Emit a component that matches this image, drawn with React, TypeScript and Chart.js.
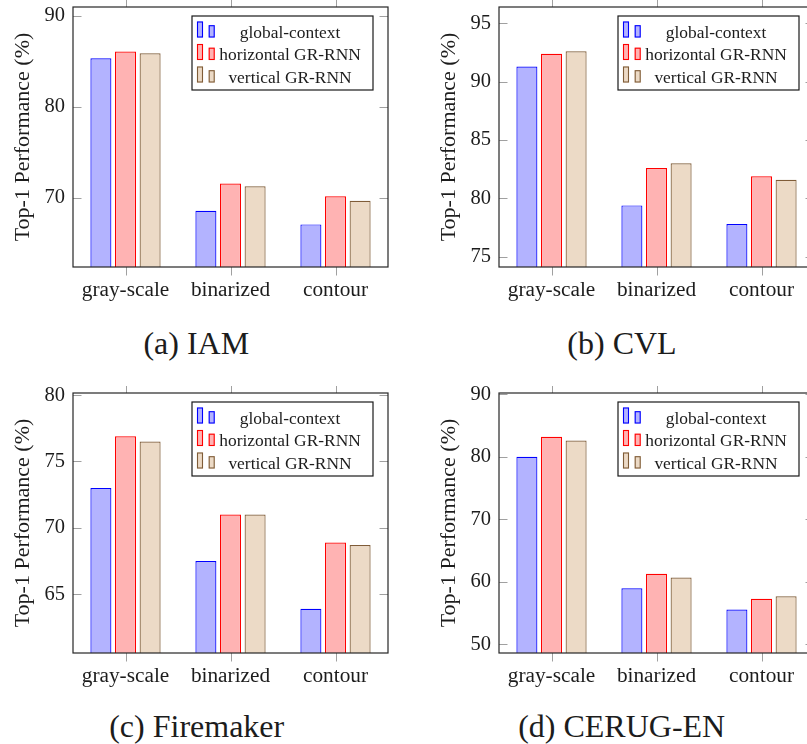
import React, { useEffect, useRef } from 'react';
import { Chart, registerables } from 'chart.js';

Chart.register(...registerables);

// ---------- data ----------
const categories = ['gray-scale', 'binarized', 'contour'];
const seriesNames = ['global-context', 'horizontal GR-RNN', 'vertical GR-RNN'];

const iamGlobal = [85.35, 68.6, 67.1];
const iamHorizontal = [86.1, 71.6, 70.2];
const iamVertical = [85.9, 71.3, 69.7];
const iamTicks = [70, 80, 90];
const iamRange = [62.42, 90.99];

const cvlGlobal = [91.3, 79.4, 77.8];
const cvlHorizontal = [92.4, 82.6, 81.9];
const cvlVertical = [92.6, 83.0, 81.6];
const cvlTicks = [75, 80, 85, 90, 95];
const cvlRange = [74.12, 96.4];

const fireGlobal = [73.0, 67.5, 63.9];
const fireHorizontal = [76.9, 71.0, 68.9];
const fireVertical = [76.5, 71.0, 68.7];
const fireTicks = [65, 70, 75, 80];
const fireRange = [60.57, 80.16];

const cerugGlobal = [80.0, 59.0, 55.6];
const cerugHorizontal = [83.2, 61.3, 57.3];
const cerugVertical = [82.6, 60.7, 57.7];
const cerugTicks = [50, 60, 70, 80, 90];
const cerugRange = [48.64, 90.2];

const captions = ['(a) IAM', '(b) CVL', '(c) Firemaker', '(d) CERUG-EN'];
const yTitle = 'Top-1 Performance (%)';

// ---------- styles ----------
const FONT = "'Liberation Serif', 'Times New Roman', serif";
const TEXT = '#1c1c1c';
const fills = ['#b3b3ff', '#ffb3b3', '#ecdac6'];
const strokes = ['#0000ff', '#ff0000', '#7f5c38'];

const W = 400;
const H = 305;
const AREA = { left: 73, top: 7, right: 388, bottom: 267 };
const TICK_LEN = 8.5;

Chart.defaults.font.family = FONT;

const framePlugin = {
  id: 'pgfFrame',
  afterDatasetsDraw(chart: any) {
    const { ctx, chartArea: a, scales } = chart;
    const xs = scales.x;
    const ys = scales.y;
    ctx.save();
    // ticks
    ctx.strokeStyle = '#a0a0a0';
    ctx.lineWidth = 1;
    ctx.beginPath();
    ys.ticks.forEach((t: any) => {
      const py = Math.round(ys.getPixelForValue(t.value)) + 0.5;
      ctx.moveTo(a.left, py);
      ctx.lineTo(a.left + TICK_LEN, py);
      ctx.moveTo(a.right - TICK_LEN, py);
      ctx.lineTo(a.right, py);
    });
    xs.ticks.forEach((_t: any, i: number) => {
      const px = Math.round(xs.getPixelForTick(i)) + 0.5;
      ctx.moveTo(px, a.top - 9);
      ctx.lineTo(px, a.top);
      ctx.moveTo(px, a.bottom);
      ctx.lineTo(px, a.bottom + TICK_LEN);
    });
    ctx.stroke();
    // frame
    ctx.strokeStyle = '#262626';
    ctx.lineWidth = 1.2;
    ctx.strokeRect(a.left, a.top, a.right - a.left, a.bottom - a.top);

    // legend
    const bw = 181;
    const bh = 74;
    const bx = a.right - 15 - bw;
    const by = a.top + 9;
    ctx.fillStyle = '#ffffff';
    ctx.fillRect(bx, by, bw, bh);
    ctx.strokeStyle = '#1a1a1a';
    ctx.lineWidth = 1.2;
    ctx.strokeRect(bx, by, bw, bh);
    chart.data.datasets.forEach((ds: any, i: number) => {
      const base = by + 21.5 + i * 22.5;
      ctx.fillStyle = ds.backgroundColor;
      ctx.strokeStyle = ds.borderColor;
      ctx.lineWidth = 1.1;
      ctx.fillRect(bx + 5, base - 16, 6, 16);
      ctx.strokeRect(bx + 5.5, base - 15.5, 5, 15);
      ctx.fillRect(bx + 16.7, base - 12.3, 6, 12.3);
      ctx.strokeRect(bx + 17.2, base - 11.8, 5, 11.3);
      ctx.fillStyle = TEXT;
      ctx.font = `17.4px ${FONT}`;
      ctx.textAlign = 'center';
      ctx.textBaseline = 'alphabetic';
      ctx.fillText(ds.label, bx + 98, base);
    });
    ctx.restore();
  },
};

type PanelProps = {
  left: number;
  top: number;
  series: number[][];
  ticks: number[];
  range: number[];
};

function Panel({ left, top, series, ticks, range }: PanelProps) {
  const ref = useRef<HTMLCanvasElement | null>(null);
  useEffect(() => {
    if (!ref.current) return;
    const chart = new Chart(ref.current, {
      type: 'bar',
      data: {
        labels: categories,
        datasets: seriesNames.map((name, i) => ({
          label: name,
          data: series[i],
          backgroundColor: fills[i],
          borderColor: strokes[i],
          borderWidth: 1.2,
          borderSkipped: 'bottom',
          categoryPercentage: 0.703,
          barPercentage: 0.854,
        })),
      },
      options: {
        responsive: false,
        animation: false,
        layout: { padding: { left: 0, top: AREA.top, right: W - AREA.right, bottom: 0 } },
        plugins: { legend: { display: false }, tooltip: { enabled: false } },
        scales: {
          x: {
            type: 'category',
            offset: true,
            grid: { display: false, drawTicks: false },
            border: { display: false },
            ticks: {
              font: { family: FONT, size: 21.3 },
              color: TEXT,
              padding: 11,
              maxRotation: 0,
              autoSkip: false,
            },
            afterFit: (s: any) => {
              s.height = H - AREA.bottom;
              s.paddingLeft = 0;
              s.paddingRight = 0;
              s.paddingTop = 0;
              s.paddingBottom = 0;
            },
          },
          y: {
            type: 'linear',
            min: range[0],
            max: range[1],
            grid: { display: false, drawTicks: false },
            border: { display: false },
            ticks: {
              font: { family: FONT, size: 20.5 },
              color: TEXT,
              padding: 8,
            },
            afterBuildTicks: (s: any) => {
              s.ticks = ticks.map((v) => ({ value: v }));
            },
            afterFit: (s: any) => {
              s.width = AREA.left;
              s.paddingTop = 0;
              s.paddingBottom = 0;
              s.paddingLeft = 0;
              s.paddingRight = 0;
            },
            title: {
              display: true,
              text: yTitle,
              font: { family: FONT, size: 22 },
              color: TEXT,
              padding: { top: 10, bottom: 0 },
            },
          },
        },
      } as any,
      plugins: [framePlugin],
    });
    return () => chart.destroy();
  }, []);
  return (
    <div style={{ position: 'absolute', left, top, width: W, height: H }}>
      <canvas ref={ref} width={W} height={H} style={{ width: W, height: H, display: 'block' }} />
    </div>
  );
}

const panelDefs = [
  { left: 0, top: 0, series: [iamGlobal, iamHorizontal, iamVertical], ticks: iamTicks, range: iamRange, cap: captions[0], capX: 196.3, capTop: 326.5 },
  { left: 426, top: 0, series: [cvlGlobal, cvlHorizontal, cvlVertical], ticks: cvlTicks, range: cvlRange, cap: captions[1], capX: 622, capTop: 326.5 },
  { left: 0, top: 385.5, series: [fireGlobal, fireHorizontal, fireVertical], ticks: fireTicks, range: fireRange, cap: captions[2], capX: 196.7, capTop: 709.5 },
  { left: 426, top: 385.5, series: [cerugGlobal, cerugHorizontal, cerugVertical], ticks: cerugTicks, range: cerugRange, cap: captions[3], capX: 621.7, capTop: 709.5 },
];

export default function App() {
  return (
    <div
      style={{
        position: 'fixed',
        left: 0,
        top: 0,
        width: 807,
        height: 744,
        overflow: 'hidden',
        background: '#ffffff',
      }}
    >
      {panelDefs.map((p, i) => (
        <Panel key={i} left={p.left} top={p.top} series={p.series} ticks={p.ticks} range={p.range} />
      ))}
      {panelDefs.map((p, i) => (
        <div
          key={'c' + i}
          style={{
            position: 'absolute',
            left: p.capX - 200,
            top: p.capTop,
            width: 400,
            textAlign: 'center',
            fontFamily: FONT,
            fontSize: 32,
            lineHeight: '32px',
            color: TEXT,
            whiteSpace: 'nowrap',
          }}
        >
          {p.cap}
        </div>
      ))}
    </div>
  );
}
